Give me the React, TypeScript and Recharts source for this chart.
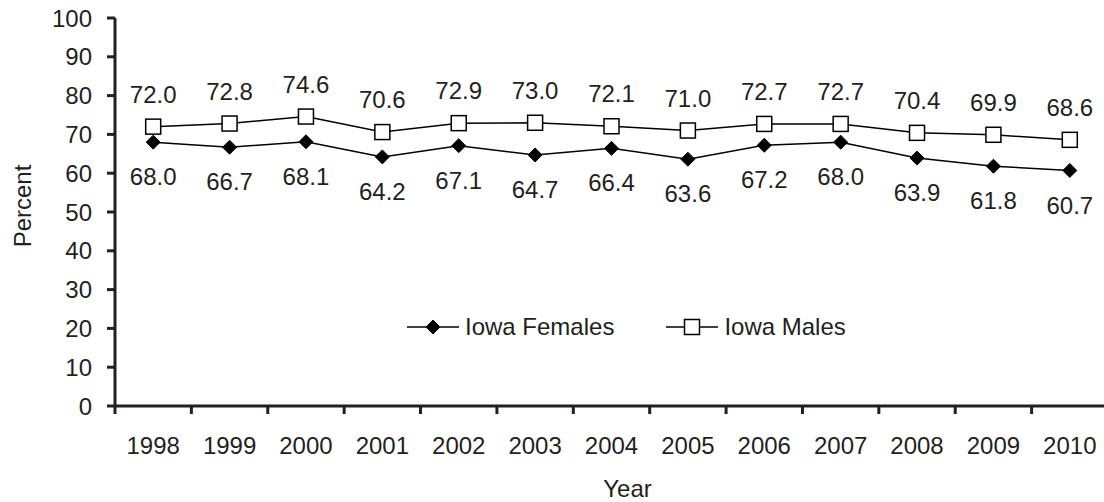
import React from 'react';
import { LineChart, Line, XAxis, YAxis, Legend, LabelList } from 'recharts';

const years = ['1998', '1999', '2000', '2001', '2002', '2003', '2004', '2005', '2006', '2007', '2008', '2009', '2010'];
const femaleValues = [68.0, 66.7, 68.1, 64.2, 67.1, 64.7, 66.4, 63.6, 67.2, 68.0, 63.9, 61.8, 60.7];
const maleValues = [72.0, 72.8, 74.6, 70.6, 72.9, 73.0, 72.1, 71.0, 72.7, 72.7, 70.4, 69.9, 68.6];
const yTicks = [0, 10, 20, 30, 40, 50, 60, 70, 80, 90, 100];
const femaleName = 'Iowa Females';
const maleName = 'Iowa Males';
const xTitle = 'Year';
const yTitle = 'Percent';

const data = years.map((year, i) => ({ year, females: femaleValues[i], males: maleValues[i] }));

const W = 1104;
const H = 502;
const Y_AXIS_W = 115;
const X_AXIS_H = 96;
const TOP = 18;
const RIGHT = -4;
const BAND = (W - RIGHT - Y_AXIS_W) / years.length;
const INK = '#231f20';
const FONT = '"Liberation Sans", Arial, Helvetica, sans-serif';
const FS = 24;

const Diamond = ({ cx, cy, size = 7 }: any) => (
  <path d={`M ${cx},${cy - size} L ${cx + size},${cy} L ${cx},${cy + size} L ${cx - size},${cy} Z`} fill="#000" stroke="#000" strokeWidth={1} />
);
const Square = ({ cx, cy, size = 7.5 }: any) => (
  <rect x={cx - size} y={cy - size} width={size * 2} height={size * 2} fill="#fff" stroke="#000" strokeWidth={1.5} />
);

const renderDiamondDot = (props: any) => {
  if (props.cx == null || props.cy == null) return <g key={`fd-${props.index}`} />;
  return <Diamond key={`fd-${props.index}`} cx={props.cx} cy={props.cy} />;
};
const renderSquareDot = (props: any) => {
  if (props.cx == null || props.cy == null) return <g key={`md-${props.index}`} />;
  return <Square key={`md-${props.index}`} cx={props.cx} cy={props.cy} />;
};

const XTick = (props: any) => {
  const { x, y, payload } = props;
  const lx = x - BAND / 2;
  return (
    <g>
      <line x1={lx} x2={lx} y1={y - 31} y2={y - 23} stroke={INK} strokeWidth={3} />
      <text x={x} y={y} dy="0.71em" textAnchor="middle" fill={INK} fontSize={FS} fontFamily={FONT}>
        {payload.value}
      </text>
    </g>
  );
};

const YTitle = (props: any) => {
  const vb = props.viewBox || { x: 0, y: TOP, width: Y_AXIS_W, height: 388 };
  const cx = vb.x + 22;
  const cy = vb.y + vb.height / 2 - 6;
  return (
    <text x={cx} y={cy} transform={`rotate(-90, ${cx}, ${cy})`} textAnchor="middle" dominantBaseline="central" fill={INK} fontSize={FS} fontFamily={FONT}>
      {yTitle}
    </text>
  );
};

const XTitle = (props: any) => {
  const vb = props.viewBox || { x: Y_AXIS_W, y: H - X_AXIS_H, width: W - Y_AXIS_W, height: X_AXIS_H };
  const cx = vb.x + vb.width / 2 + 16;
  const by = vb.y + vb.height - 5;
  return (
    <text x={cx} y={by} textAnchor="middle" fill={INK} fontSize={FS} fontFamily={FONT}>
      {xTitle}
    </text>
  );
};

const renderLegend = (props: any) => {
  const payload = props.payload || [];
  return (
    <div style={{ display: 'flex', alignItems: 'center', fontFamily: FONT, fontSize: FS, color: INK, lineHeight: '24px', whiteSpace: 'nowrap' }}>
      {payload.map((entry: any, i: number) => (
        <div key={`leg-${i}`} style={{ display: 'flex', alignItems: 'center', marginLeft: i === 0 ? 0 : 52 }}>
          <svg width={52} height={24} style={{ display: 'block' }}>
            <line x1={0} x2={52} y1={12} y2={12} stroke="#000" strokeWidth={1.5} />
            {entry.dataKey === 'females' ? <Diamond cx={26} cy={12} /> : <Square cx={26} cy={12} />}
          </svg>
          <span style={{ marginLeft: 6 }}>{entry.value}</span>
        </div>
      ))}
    </div>
  );
};

export default function App() {
  return (
    <div style={{ position: 'absolute', left: 0, top: 0, width: W, height: H, background: '#fff', overflow: 'hidden' }}>
      <LineChart width={W} height={H} data={data} margin={{ top: TOP, right: RIGHT, bottom: 0, left: 0 }}>
        <XAxis
          dataKey="year"
          scale="band"
          interval={0}
          height={X_AXIS_H}
          tickSize={8}
          tickMargin={23}
          tickLine={false}
          axisLine={{ stroke: INK, strokeWidth: 3 }}
          tick={<XTick />}
          label={<XTitle />}
        />
        <YAxis
          width={Y_AXIS_W}
          domain={[0, 100]}
          ticks={yTicks}
          interval={0}
          tickSize={8}
          tickMargin={15}
          axisLine={{ stroke: INK, strokeWidth: 3 }}
          tickLine={{ stroke: INK, strokeWidth: 3 }}
          tick={{ fill: INK, fontSize: FS, fontFamily: FONT }}
          label={<YTitle />}
        />
        <Legend
          layout="horizontal"
          verticalAlign="middle"
          align="center"
          width={700}
          wrapperStyle={{ left: 407, top: 315, width: 700 }}
          content={renderLegend}
        />
        <Line
          type="linear"
          dataKey="females"
          name={femaleName}
          stroke="#000"
          strokeWidth={1.5}
          dot={renderDiamondDot}
          activeDot={false}
          isAnimationActive={false}
        >
          <LabelList dataKey="females" position="bottom" offset={26} formatter={(v: any) => Number(v).toFixed(1)} fill={INK} fontSize={FS} fontFamily={FONT} />
        </Line>
        <Line
          type="linear"
          dataKey="males"
          name={maleName}
          stroke="#000"
          strokeWidth={1.5}
          dot={renderSquareDot}
          activeDot={false}
          isAnimationActive={false}
        >
          <LabelList dataKey="males" position="top" offset={24} formatter={(v: any) => Number(v).toFixed(1)} fill={INK} fontSize={FS} fontFamily={FONT} />
        </Line>
      </LineChart>
    </div>
  );
}
